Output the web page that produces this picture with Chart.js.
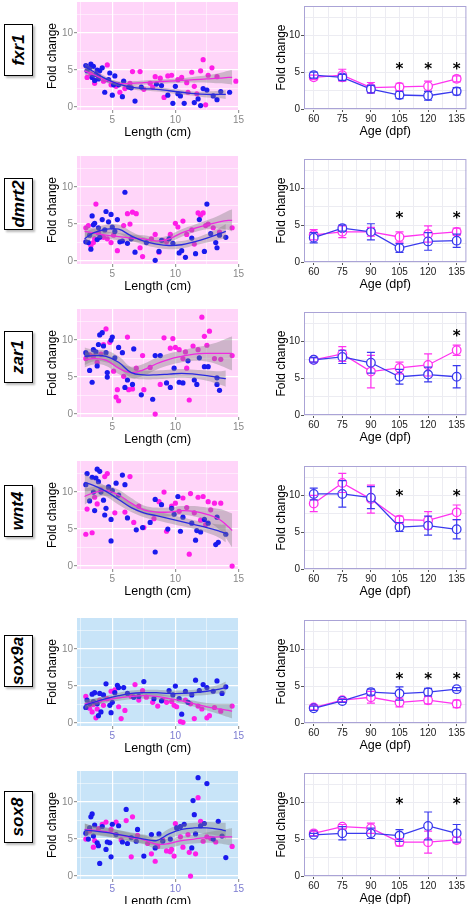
<!DOCTYPE html>
<html><head><meta charset="utf-8">
<script src="https://cdn.jsdelivr.net/npm/chart.js@4.4.0/dist/chart.umd.min.js"></script>
<style>
body{margin:0;background:#fff;width:472px;height:904px;position:relative;overflow:hidden;font-family:"Liberation Sans",Arial,sans-serif}
canvas{position:absolute}
.gene{position:absolute;left:4px;width:27px;height:50px;border:1.5px solid #000;box-shadow:2px 2px 2px #bbb;background:#fff;display:flex;align-items:center;justify-content:center}
.gene span{transform:rotate(-90deg);font-weight:bold;font-style:italic;font-size:17px;white-space:nowrap}
</style></head><body>
<script>
const genes=["fxr1","dmrt2","zar1","wnt4","sox9a","sox8"];
const ages=[60,75,90,105,120,135];
const leftTops=[0,154,307,459,616,769];
const rightTops=[4,157,310,464,618,771];
const labelCenters=[49,203,356,510,660,816];
const bgColors=["#ffd5f9","#ffd5f9","#ffd5f9","#ffd5f9","#c8e4f8","#c8e4f8"];
const BLUE="#1a1aee", PINK="#ff1ee8";

// Right panels: means and error
const pinkMean=[[4.3,4.6,2.9,3.0,3.1,4.1],[3.7,4.1,4.1,3.4,3.8,4.1],[7.5,8.3,5.9,6.4,6.8,8.8],[8.9,11.7,9.5,6.7,6.6,7.7],[2.1,3.1,3.5,2.8,3.1,2.6],[5.8,6.7,6.5,4.6,4.6,4.9]];
const pinkErr=[[0.3,0.8,0.7,0.5,0.7,0.4],[0.7,0.8,0.6,0.7,1.1,0.5],[0.3,1.0,2.2,0.8,1.5,0.7],[1.1,1.3,1.9,0.5,1.2,1.0],[0.3,0.2,0.8,0.6,0.5,0.5],[0.3,0.3,0.7,0.5,1.5,0.4]];
const blueMean=[[4.6,4.3,2.7,1.9,1.8,2.4],[3.3,4.6,4.1,1.9,2.8,2.9],[7.5,7.9,7.1,5.2,5.5,5.2],[10.2,10.2,9.7,5.7,5.9,5.4],[2.0,3.0,4.2,4.0,4.2,4.6],[5.6,5.8,5.8,5.5,6.8,5.8]];
const blueErr=[[0.4,0.4,0.5,0.5,0.6,0.5],[0.7,0.4,1.1,0.6,1.2,0.9],[0.3,0.9,1.4,1.0,1.0,1.5],[0.8,1.8,1.5,0.6,1.3,1.3],[0.3,0.2,0.4,0.9,0.5,0.2],[0.2,0.9,0.7,0.8,1.9,1.2]];
const starAges=[[105,120,135],[105,135],[135],[105,135],[105,120,135],[105,135]];
const starY=[5.7,6.3,11.0,10.2,6.2,10.0];

// Left panels: scatter points
const bluePts=[
[[2.9,5.6],[3.0,4.9],[3.2,5.3],[3.3,5.8],[3.4,4.0],[3.5,5.5],[3.6,3.6],[3.7,4.4],[3.8,5.0],[3.9,3.8],[4.0,4.9],[4.2,5.3],[4.4,2.0],[4.7,3.7],[4.8,4.6],[5.0,1.6],[5.1,3.0],[5.2,4.2],[5.5,3.0],[5.8,1.4],[5.9,3.5],[6.3,2.7],[6.5,2.6],[6.8,0.8],[7.3,2.7],[8.5,3.1],[8.9,2.9],[9.4,1.6],[9.8,0.5],[10.0,2.8],[10.2,1.8],[10.4,1.5],[10.7,0.5],[11.5,0.6],[11.8,1.1],[12.0,0.2],[12.2,2.5],[12.5,2.3],[13.0,1.5],[13.3,1.0],[13.6,2.1],[14.3,2.0]],
[[2.9,2.6],[3.1,2.5],[3.2,3.5],[3.3,1.6],[3.4,6.1],[3.5,4.9],[3.6,5.1],[3.8,2.9],[3.9,4.5],[4.0,3.2],[4.2,5.6],[4.4,4.2],[4.5,6.7],[4.7,5.3],[4.9,6.3],[5.0,4.6],[5.2,4.0],[5.4,5.6],[5.6,2.6],[5.8,2.7],[6.0,9.3],[6.2,2.4],[6.5,3.0],[6.8,1.2],[7.7,2.5],[8.4,0.1],[8.7,1.3],[8.9,2.8],[9.5,3.0],[9.8,2.4],[10.3,1.1],[10.5,1.4],[10.8,0.5],[11.3,3.1],[11.6,1.0],[11.9,5.6],[12.3,1.3],[12.5,7.7],[12.8,3.7],[13.3,1.8],[13.5,3.5],[14.0,3.2],[13.2,2.5]],
[[2.9,8.3],[3.0,8.0],[3.2,5.9],[3.4,4.3],[3.5,8.7],[3.7,8.4],[3.8,6.5],[3.9,9.4],[4.0,10.7],[4.2,11.0],[4.3,9.2],[4.5,8.3],[4.6,5.0],[4.6,5.6],[4.9,10.0],[5.0,10.4],[5.2,7.6],[5.5,9.0],[5.8,8.3],[6.0,3.6],[6.2,4.6],[6.6,4.0],[6.7,8.8],[7.3,2.6],[8.2,2.0],[8.4,7.9],[8.8,7.9],[9.3,4.2],[9.6,3.6],[9.9,6.2],[10.3,4.3],[10.6,4.2],[11.0,7.2],[11.5,4.6],[11.7,4.0],[11.9,7.6],[12.3,6.4],[12.6,6.4],[13.3,4.9],[13.5,3.2],[13.3,4.0]],
[[2.9,11.0],[3.0,12.5],[3.2,8.8],[3.4,12.0],[3.5,10.0],[3.6,7.5],[3.7,11.9],[3.8,13.1],[3.9,11.4],[4.0,12.8],[4.1,10.0],[4.3,8.9],[4.4,6.9],[4.5,7.8],[4.7,10.7],[4.9,6.3],[4.9,3.4],[5.0,10.2],[5.3,11.2],[5.5,9.6],[5.8,12.3],[6.0,11.0],[6.2,6.5],[6.9,4.9],[7.4,5.2],[8.0,5.9],[8.4,9.0],[8.4,1.9],[8.9,8.3],[9.4,5.0],[9.7,7.8],[9.9,7.0],[10.2,9.4],[10.4,4.7],[10.6,6.6],[11.3,5.8],[11.6,3.5],[11.7,4.8],[12.0,4.6],[12.3,6.3],[12.6,5.8],[13.2,2.9],[13.4,3.2],[13.3,6.6],[14.0,4.3]],
[[2.9,2.1],[3.0,3.1],[3.2,2.6],[3.4,3.9],[3.5,2.9],[3.6,4.1],[3.8,2.6],[3.9,1.0],[4.0,4.0],[4.1,1.5],[4.3,3.8],[4.5,5.3],[4.8,2.4],[4.9,1.4],[5.0,2.8],[5.2,4.1],[5.4,5.1],[5.5,4.8],[5.9,4.8],[6.2,4.0],[6.7,3.5],[7.1,3.6],[7.5,5.6],[8.3,3.3],[8.9,3.0],[9.5,4.4],[9.8,3.8],[10.0,5.0],[10.3,3.3],[10.5,1.2],[10.8,4.3],[11.3,3.8],[11.6,5.8],[11.9,4.4],[12.2,5.2],[12.5,4.8],[13.0,4.3],[13.3,5.7],[13.7,4.0],[14.0,4.9],[11.0,2.8]],
[[2.9,5.8],[3.1,5.0],[3.2,6.5],[3.3,8.0],[3.4,8.4],[3.5,5.4],[3.6,6.9],[3.8,4.5],[3.9,4.1],[4.0,1.7],[4.2,6.7],[4.5,3.6],[4.6,4.6],[4.8,4.5],[4.9,2.6],[5.0,7.0],[5.3,5.6],[5.5,6.8],[5.8,4.6],[6.1,9.0],[6.2,4.4],[6.5,5.2],[6.9,4.7],[7.0,6.3],[7.5,2.7],[8.1,5.6],[8.4,3.8],[8.7,5.7],[9.0,4.7],[9.6,5.0],[10.1,6.5],[10.4,6.7],[10.7,7.0],[11.3,3.8],[11.5,8.3],[11.6,5.7],[11.8,13.3],[12.0,6.8],[12.3,7.1],[12.5,12.5],[13.0,5.0],[13.4,7.4],[13.7,5.4],[14.0,2.5],[11.4,10.2]]
];
const pinkPts=[
[[3.0,4.0],[3.3,4.5],[3.6,3.2],[3.9,4.2],[4.3,3.5],[4.6,5.7],[4.9,3.0],[5.3,2.8],[5.6,2.0],[6.0,2.5],[6.4,3.2],[6.6,4.8],[7.2,4.8],[7.5,2.4],[8.0,3.2],[8.4,4.1],[8.8,3.9],[9.1,1.3],[9.4,4.2],[9.7,4.3],[10.2,3.7],[10.5,4.0],[10.9,3.3],[11.3,4.7],[11.5,2.8],[11.7,1.8],[12.0,4.9],[12.2,6.4],[12.4,0.3],[12.6,4.3],[12.9,5.3],[13.3,4.1],[14.8,3.5],[11.0,2.0],[8.2,2.7]],
[[2.9,4.5],[3.1,4.8],[3.3,2.1],[3.5,2.5],[3.6,3.0],[3.7,7.7],[3.9,3.8],[4.1,3.3],[4.3,3.2],[4.6,3.0],[4.9,2.5],[5.1,3.5],[5.4,1.4],[5.9,4.8],[6.2,6.4],[6.4,5.0],[6.6,6.6],[6.9,6.4],[7.2,1.8],[7.4,0.6],[8.1,3.0],[8.4,3.6],[8.7,1.2],[9.0,2.8],[9.3,2.6],[9.6,3.6],[10.0,5.1],[10.2,4.6],[10.6,5.4],[10.9,3.6],[11.3,4.2],[11.8,6.5],[12.0,6.2],[12.2,6.5],[12.6,5.0],[13.0,4.5],[13.5,3.9],[14.5,4.5],[11.5,2.3],[12.4,4.8]],
[[2.9,7.5],[3.2,8.0],[3.5,7.8],[3.8,7.0],[4.1,8.1],[4.3,9.4],[4.5,11.5],[4.8,9.7],[5.1,5.8],[5.3,2.3],[5.4,3.3],[5.5,1.8],[5.9,5.1],[6.2,10.4],[6.3,3.3],[6.6,3.4],[6.9,6.2],[7.4,7.9],[7.5,3.3],[8.0,6.3],[8.4,0.0],[8.8,4.0],[9.1,10.3],[9.6,8.9],[9.8,10.2],[10.0,9.0],[10.3,8.7],[10.6,7.5],[10.9,6.2],[11.1,1.9],[11.4,9.2],[11.8,8.7],[12.1,13.1],[12.3,10.5],[12.5,9.3],[12.7,11.2],[13.1,7.5],[13.6,7.4],[14.5,7.9],[10.8,8.4]],
[[2.9,4.3],[3.0,7.7],[3.4,4.5],[3.6,9.3],[3.8,8.4],[4.1,10.3],[4.4,12.1],[4.6,12.5],[4.7,10.6],[5.2,7.2],[6.0,7.3],[6.4,12.1],[6.7,5.9],[7.1,8.1],[7.5,5.2],[8.3,6.4],[8.7,8.7],[9.1,10.0],[9.3,4.7],[9.7,8.1],[10.0,8.5],[10.3,7.4],[10.6,9.2],[10.9,7.9],[11.2,9.8],[11.1,1.6],[11.5,7.2],[11.8,9.3],[12.0,6.2],[12.2,9.4],[12.6,8.7],[12.8,7.6],[13.1,8.5],[13.6,8.5],[14.5,0.0],[12.4,5.6]],
[[2.9,3.6],[3.2,2.0],[3.4,1.5],[3.5,2.5],[3.7,0.7],[3.8,1.9],[4.0,3.1],[4.3,2.4],[4.6,3.3],[4.9,4.3],[5.2,4.5],[5.5,2.2],[5.7,0.6],[6.0,1.7],[6.5,3.6],[6.8,5.2],[7.1,3.1],[7.4,4.4],[7.7,3.5],[8.2,2.8],[8.6,2.3],[9.0,3.1],[9.3,2.8],[9.7,2.9],[10.1,2.2],[10.4,0.2],[10.6,0.1],[10.8,3.1],[11.2,2.6],[11.5,0.6],[11.8,2.3],[12.1,1.9],[12.5,0.7],[12.7,1.0],[13.1,2.1],[13.6,1.6],[14.5,2.3],[9.9,2.4]],
[[2.9,5.0],[3.2,6.1],[3.5,3.9],[3.6,4.8],[3.9,6.4],[4.2,7.0],[4.5,7.3],[4.9,6.3],[5.3,7.3],[5.7,4.9],[6.1,7.5],[6.5,2.6],[6.6,8.0],[7.0,5.5],[7.8,4.4],[8.1,3.0],[8.4,2.0],[8.6,4.0],[9.0,4.9],[9.3,3.4],[9.6,3.3],[9.9,2.7],[10.0,7.1],[10.4,5.3],[10.6,3.9],[11.0,5.6],[11.1,3.2],[11.2,0.0],[11.6,3.0],[11.8,10.6],[12.0,7.4],[12.2,4.7],[12.5,5.3],[12.8,5.1],[13.2,4.6],[14.5,4.0],[9.7,3.6]]
];
// Smooth curves and ribbon half-widths
const blueCurveX=[2.8,3.5,4.5,5.5,6.5,7.5,8.5,9.5,10.5,11.5,12.5,13.5,14.0];
const pinkCurveX=[2.8,3.5,4.5,5.5,6.5,7.5,8.5,9.5,10.5,11.5,12.5,13.5,14.2,14.5];
const blueCurveY=[
[5.5,4.8,3.8,3.1,2.7,2.5,2.4,2.2,2.0,1.8,1.7,1.7,1.7],
[3.0,3.8,4.3,4.3,3.4,2.7,2.3,2.1,2.2,2.6,3.1,3.7,4.0],
[7.8,7.9,7.8,7.0,5.6,5.3,5.3,5.4,5.5,5.4,5.2,4.9,4.8],
[11.3,10.9,10.1,9.0,7.9,7.2,6.8,6.4,6.0,5.6,5.2,4.7,4.4],
[2.4,2.8,3.3,3.7,4.0,4.1,4.1,4.0,4.0,4.1,4.3,4.6,4.8],
[6.2,6.1,5.9,5.6,5.3,5.0,4.8,5.7,6.3,6.5,6.5,6.3,6.1]];
const blueSE=[
[0.5,0.4,0.3,0.3,0.3,0.3,0.3,0.3,0.3,0.3,0.4,0.5,0.6],
[0.9,0.6,0.6,0.6,0.6,0.5,0.5,0.5,0.5,0.5,0.6,0.8,1.0],
[1.2,0.8,0.8,0.8,0.7,0.6,0.6,0.6,0.6,0.6,0.7,0.9,1.1],
[1.2,0.8,0.7,0.7,0.6,0.6,0.6,0.6,0.6,0.6,0.7,0.9,1.2],
[0.7,0.5,0.4,0.4,0.4,0.4,0.4,0.4,0.4,0.4,0.5,0.6,0.8],
[0.9,0.6,0.6,0.6,0.6,0.6,0.6,0.7,0.7,0.7,0.8,0.9,1.1]];
const pinkCurveY=[
[4.9,4.4,3.6,3.2,3.2,3.3,3.4,3.5,3.6,3.7,3.8,3.9,4.0,4.0],
[4.0,3.8,3.5,3.3,3.1,3.0,2.7,3.0,3.8,4.4,4.9,5.3,5.5,5.5],
[7.3,7.5,7.3,6.2,5.6,6.0,6.8,7.4,7.8,8.1,8.2,8.2,8.2,8.2],
[9.4,9.9,10.2,9.6,8.5,7.6,7.3,7.3,7.5,7.4,7.0,6.3,5.3,4.8],
[2.6,2.8,3.1,3.4,3.6,3.7,3.6,3.3,3.0,2.6,2.2,1.9,1.7,1.6],
[6.3,6.2,6.0,5.6,5.2,4.9,4.3,4.4,4.8,5.0,5.2,5.3,5.3,5.3]];
const pinkSE=[
[0.5,0.4,0.3,0.3,0.3,0.3,0.3,0.3,0.3,0.4,0.5,0.7,0.9,1.0],
[0.8,0.6,0.5,0.5,0.5,0.5,0.5,0.5,0.5,0.5,0.6,0.9,1.3,1.5],
[1.0,0.8,0.8,0.8,0.8,0.8,0.8,0.8,0.8,0.9,1.1,1.6,2.1,2.3],
[1.1,0.8,0.7,0.7,0.7,0.6,0.6,0.6,0.6,0.7,0.9,1.4,2.0,2.3],
[0.6,0.5,0.4,0.4,0.4,0.4,0.4,0.4,0.4,0.4,0.5,0.7,0.9,1.0],
[0.8,0.6,0.6,0.6,0.6,0.6,0.6,0.6,0.6,0.6,0.7,0.9,1.1,1.2]];

const RIB="rgba(125,125,125,0.38)";
const tickFont={family:"Liberation Sans",size:10};
function pts(a){return a.map(p=>({x:p[0],y:p[1]}));}
function curve(xs,ys,off){return xs.map((x,i)=>({x:x,y:ys[i]+(off?off[i]:0)}));}
function neg(a){return a.map(v=>-v);}

function mk(left,top,w,h){const c=document.createElement('canvas');c.width=w;c.height=h;c.style.left=left+'px';c.style.top=top+'px';c.style.width=w+'px';c.style.height=h+'px';document.body.appendChild(c);return c;}

const bgPlugin={id:'bg',beforeDraw(ch,a,o){if(!o.color)return;const {ctx,chartArea:c}=ch;ctx.save();ctx.fillStyle=o.color;ctx.fillRect(c.left,c.top,c.right-c.left,c.bottom-c.top);ctx.restore();}};
const borderPlugin={id:'frame',afterDraw(ch,a,o){if(!o.color)return;const {ctx,chartArea:c}=ch;ctx.save();ctx.strokeStyle=o.color;ctx.lineWidth=1;ctx.strokeRect(c.left+0.5,c.top+0.5,c.right-c.left-1,c.bottom-c.top-1);ctx.restore();}};
const errPlugin={id:'err',afterDatasetsDraw(ch,a,o){if(!o.sets)return;const {ctx,scales}=ch;ctx.save();
 o.sets.forEach(s=>{ctx.strokeStyle=s.color;ctx.lineWidth=1.2;
  ages.forEach((ag,i)=>{const x=scales.x.getPixelForValue(ag);const y1=scales.y.getPixelForValue(s.m[i]+s.e[i]);const y2=scales.y.getPixelForValue(s.m[i]-s.e[i]);
   ctx.beginPath();ctx.moveTo(x,y1);ctx.lineTo(x,y2);ctx.moveTo(x-4,y1);ctx.lineTo(x+4,y1);ctx.moveTo(x-4,y2);ctx.lineTo(x+4,y2);ctx.stroke();});});
 ctx.fillStyle='#000';ctx.font='bold 15px "DejaVu Sans"';ctx.textAlign='center';ctx.textBaseline='middle';
 o.stars.forEach(ag=>{ctx.fillText('*',scales.x.getPixelForValue(ag),scales.y.getPixelForValue(o.starY)+3);});
 ctx.restore();}};
Chart.register(bgPlugin,borderPlugin,errPlugin);

genes.forEach((g,k)=>{
 const d=document.createElement('div');d.className='gene';d.style.top=(labelCenters[k]-25)+'px';d.innerHTML='<span>'+g+'</span>';document.body.appendChild(d);
 const blueTick = k>=4 ? '#7b7bd0' : '#888';
 // left scatter
 const lc=mk(45,leftTops[k]-5,200,145);
 new Chart(lc,{type:'scatter',data:{datasets:[
  {type:'line',data:curve(blueCurveX,blueCurveY[k]),borderColor:'#2a2ae0',borderWidth:1.3,pointRadius:0,tension:0.4,fill:false},
  {type:'line',data:curve(pinkCurveX,pinkCurveY[k]),borderColor:'#ee2ae0',borderWidth:1.3,pointRadius:0,tension:0.4,fill:false},
  {type:'line',data:curve(blueCurveX,blueCurveY[k],blueSE[k]),borderWidth:0,pointRadius:0,tension:0.4,fill:'+1',backgroundColor:RIB},
  {type:'line',data:curve(blueCurveX,blueCurveY[k],neg(blueSE[k])),borderWidth:0,pointRadius:0,tension:0.4,fill:false},
  {type:'line',data:curve(pinkCurveX,pinkCurveY[k],pinkSE[k]),borderWidth:0,pointRadius:0,tension:0.4,fill:'+1',backgroundColor:RIB},
  {type:'line',data:curve(pinkCurveX,pinkCurveY[k],neg(pinkSE[k])),borderWidth:0,pointRadius:0,tension:0.4,fill:false},
  {data:pts(bluePts[k]),backgroundColor:BLUE,borderWidth:0,pointRadius:2.6},
  {data:pts(pinkPts[k]),backgroundColor:PINK,borderWidth:0,pointRadius:2.6}
 ]},options:{responsive:false,animation:false,devicePixelRatio:1,layout:{padding:{top:5,right:3,left:0,bottom:0}},
  plugins:{legend:{display:false},tooltip:{enabled:false},bg:{color:bgColors[k]},frame:{},err:{}},
  scales:{
   x:{type:'linear',min:2.2,max:15,afterBuildTicks:s=>{s.ticks=[2.5,5,7.5,10,12.5,15].map(v=>({value:v}));},
     afterFit:s=>{s.height=30;},border:{display:false},
     grid:{color:'#fff',lineWidth:c=>c.tick&&c.tick.value%5===0?1.2:0.5,tickLength:3,tickColor:c=>c.tick&&c.tick.value%5===0?'#999':'rgba(0,0,0,0)'},
     ticks:{font:tickFont,color:blueTick,padding:1,maxRotation:0,callback:v=>v%5===0?v:''},
     title:{display:true,text:'Length (cm)',font:{family:'Liberation Sans',size:12.5},color:'#000',padding:{top:0,bottom:0}}},
   y:{min:-0.4,max:14.2,afterBuildTicks:s=>{s.ticks=[0,2.5,5,7.5,10,12.5].map(v=>({value:v}));},
     afterFit:s=>{s.width=32;},border:{display:false},
     grid:{color:'#fff',lineWidth:c=>c.tick&&c.tick.value%5===0?1.2:0.5,tickLength:3,tickColor:c=>c.tick&&c.tick.value%5===0?'#999':'rgba(0,0,0,0)'},
     ticks:{font:tickFont,color:'#888',padding:1,callback:v=>v%5===0?v:''},
     title:{display:true,text:'Fold change',font:{family:'Liberation Sans',size:12},color:'#000',padding:{top:0,bottom:0}}}
  }}});
 // right line chart
 const rc=mk(274,rightTops[k]-5,198,140);
 new Chart(rc,{type:'line',data:{datasets:[
  {data:ages.map((a,i)=>({x:a,y:blueMean[k][i]})),borderColor:'#3a3aee',borderWidth:1.3,pointRadius:4.3,pointBackgroundColor:'#fff',pointBorderColor:'#3a3aee',pointBorderWidth:1.3,tension:0},
  {data:ages.map((a,i)=>({x:a,y:pinkMean[k][i]})),borderColor:'#ff33f0',borderWidth:1.3,pointRadius:4.3,pointBackgroundColor:'#fff',pointBorderColor:'#ff33f0',pointBorderWidth:1.3,tension:0}
 ]},options:{responsive:false,animation:false,devicePixelRatio:1,layout:{padding:{top:5,right:2,left:0,bottom:0}},
  plugins:{legend:{display:false},tooltip:{enabled:false},bg:{},frame:{color:'#aaa3d6'},
   err:{sets:[{m:pinkMean[k],e:pinkErr[k],color:'#ff33f0'},{m:blueMean[k],e:blueErr[k],color:'#3a3aee'}],stars:starAges[k],starY:starY[k]}},
  scales:{
   x:{type:'linear',min:54.9,max:140.1,afterBuildTicks:s=>{s.ticks=[60,67.5,75,82.5,90,97.5,105,112.5,120,127.5,135].map(v=>({value:v}));},
     afterFit:s=>{s.height=30;},border:{display:false},
     grid:{color:'#ececf2',lineWidth:1,tickLength:3,tickColor:c=>c.tick&&c.tick.value%15===0?'#555':'rgba(0,0,0,0)'},
     ticks:{font:tickFont,color:'#222',padding:1,maxRotation:0,autoSkip:false,callback:v=>v%15===0?v:''},
     title:{display:true,text:'Age (dpf)',font:{family:'Liberation Sans',size:12.5},color:'#000',padding:{top:0,bottom:0}}},
   y:{min:0,max:14,afterBuildTicks:s=>{s.ticks=[0,2.5,5,7.5,10,12.5].map(v=>({value:v}));},
     afterFit:s=>{s.width=30;},border:{display:false},
     grid:{color:'#ececf2',lineWidth:1,tickLength:3,tickColor:c=>c.tick&&c.tick.value%5===0?'#555':'rgba(0,0,0,0)'},
     ticks:{font:tickFont,color:'#222',padding:1,callback:v=>v%5===0?v:''},
     title:{display:true,text:'Fold change',font:{family:'Liberation Sans',size:12},color:'#000',padding:{top:0,bottom:0}}}
  }}});
});
</script>
</body></html>
